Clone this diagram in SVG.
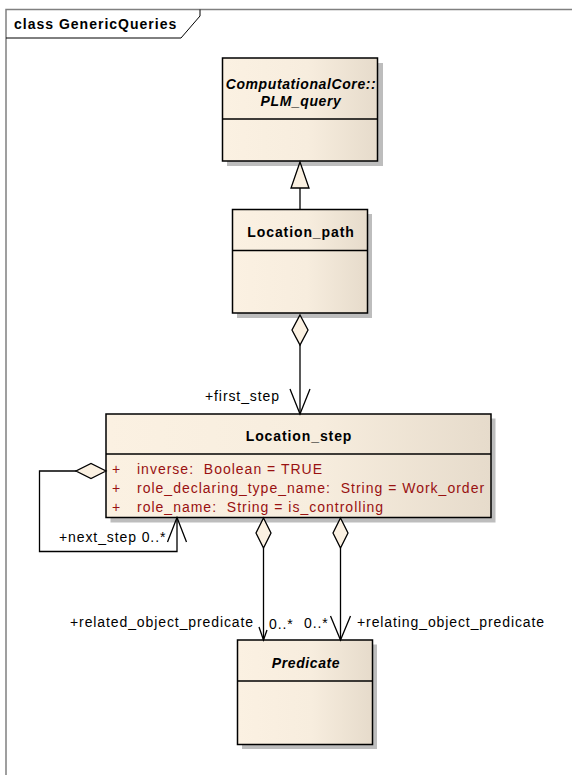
<svg xmlns="http://www.w3.org/2000/svg" width="572" height="775" viewBox="0 0 572 775">
<defs>
<linearGradient id="fill" x1="0" y1="0" x2="1" y2="0">
<stop offset="0" stop-color="#FBF1E2"/>
<stop offset="0.55" stop-color="#F7EDDE"/>
<stop offset="1" stop-color="#E6DBCB"/>
</linearGradient>
<style>
.box{fill:url(#fill);stroke:#000;stroke-width:1.5}
.shadow{fill:#BDBDBD}
.div{stroke:#000;stroke-width:1.5}
.conn{fill:none;stroke:#000;stroke-width:1.3}
.dia{fill:#FBF1E2;stroke:#000;stroke-width:1.3}
.tri{fill:#FBF1E2;stroke:#000;stroke-width:1.3}
.title{font-family:"Liberation Sans",Arial,sans-serif;font-size:14px;font-weight:bold;text-anchor:middle;letter-spacing:0.9px}
.it{font-style:italic;letter-spacing:0.6px}
.attr{font-family:"Liberation Sans",Arial,sans-serif;font-size:14px;fill:#991111;letter-spacing:1px;white-space:pre}
.lbl{font-family:"Liberation Sans",Arial,sans-serif;font-size:14px;fill:#000;letter-spacing:0.9px}
</style>
</defs>
<rect width="572" height="775" fill="#fff"/>
<g id="frame">
<path d="M6,780 L6,9.5 L580,9.5" fill="none" stroke="#808080" stroke-width="1.5"/>
<path d="M6,38 L181,38 L200,16 L200,9.5" fill="none" stroke="#000" stroke-width="1"/>
<text x="14" y="29" font-family="Liberation Sans,Arial,sans-serif" font-size="14" font-weight="bold" letter-spacing="1">class GenericQueries</text>
</g>
<g id="PLM_query">
<rect class="shadow" x="227" y="63" width="156" height="103"/>
<rect class="box" x="222.5" y="58" width="155" height="103"/>
<line class="div" x1="222.5" y1="119" x2="377.5" y2="119"/>
<text class="title it" x="301" y="89">ComputationalCore::</text>
<text class="title it" x="301" y="106">PLM_query</text>
</g>
<g id="Location_path">
<rect class="shadow" x="237" y="214" width="135" height="104"/>
<rect class="box" x="232.5" y="209.5" width="135" height="103.5"/>
<line class="div" x1="232.5" y1="250.5" x2="367.5" y2="250.5"/>
<text class="title" x="301" y="237">Location_path</text>
</g>
<g id="Location_step">
<rect class="shadow" x="110.5" y="418.5" width="385" height="104"/>
<rect class="box" x="106" y="414" width="385" height="103.5"/>
<line class="div" x1="106" y1="454" x2="491" y2="454"/>
<text class="title" x="299" y="441">Location_step</text>
<text class="attr" x="112" y="474">+</text>
<text class="attr" x="137" y="474" xml:space="preserve">inverse:  Boolean = TRUE</text>
<text class="attr" x="112" y="493">+</text>
<text class="attr" x="137" y="493" xml:space="preserve">role_declaring_type_name:  String = Work_order</text>
<text class="attr" x="112" y="512">+</text>
<text class="attr" x="137" y="512" xml:space="preserve">role_name:  String = is_controlling</text>
</g>
<g id="Predicate">
<rect class="shadow" x="242" y="644.5" width="135" height="104.5"/>
<rect class="box" x="237.5" y="640" width="135" height="104.5"/>
<line class="div" x1="237.5" y1="681" x2="372.5" y2="681"/>
<text class="title it" x="306" y="668">Predicate</text>
</g>
<g id="connectors">
<line class="conn" x1="300" y1="188" x2="300" y2="209.5"/>
<polygon class="tri" points="300,162 291,188 309,188"/>
<line class="conn" x1="300" y1="345" x2="300" y2="414"/>
<polygon class="dia" points="300,315 308,330 300,345 292,330"/>
<polyline class="conn" points="290,389 300,414 310,389"/>
<text class="lbl" x="205" y="401">+first_step</text>
<polyline class="conn" points="76,471 39.5,471 39.5,551.5 177,551.5 177,517.5"/>
<polygon class="dia" points="106,471 91,478.5 76,471 91,463.5"/>
<polyline class="conn" points="167.5,542 177,517.5 186.5,542"/>
<text class="lbl" x="59" y="542">+next_step 0..*</text>
<line class="conn" x1="263.5" y1="548" x2="263.5" y2="640"/>
<polygon class="dia" points="263.5,518 271,533 263.5,548 256,533"/>
<polyline class="conn" points="259,627 263.5,640 267,630"/>
<text class="lbl" x="70" y="627">+related_object_predicate</text>
<text class="lbl" x="269" y="629">0..*</text>
<line class="conn" x1="340.5" y1="548" x2="340.5" y2="640"/>
<polygon class="dia" points="340.5,518 348,533 340.5,548 333,533"/>
<polyline class="conn" points="330.5,616 340.5,640 350.5,616"/>
<text class="lbl" x="304" y="628">0..*</text>
<text class="lbl" x="357" y="627">+relating_object_predicate</text>
</g>
</svg>
